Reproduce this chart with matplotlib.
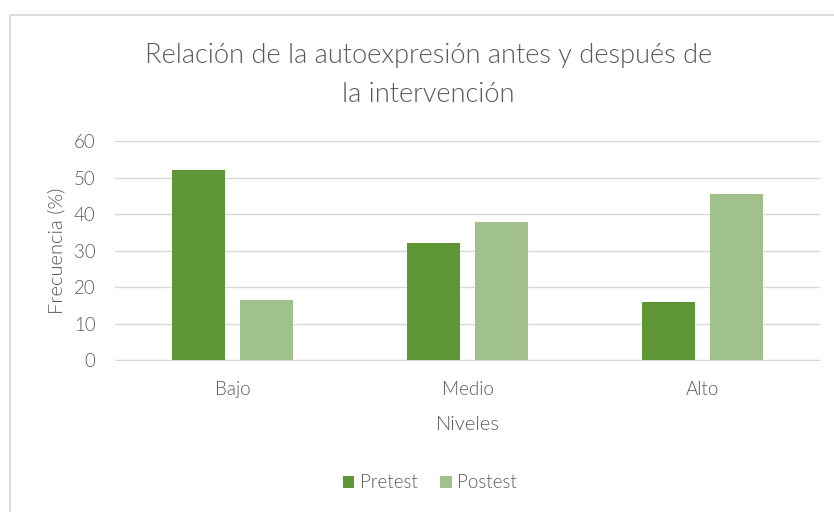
import matplotlib
matplotlib.use("Agg")
import matplotlib.pyplot as plt
from matplotlib.patches import Rectangle, Patch
import numpy as np

categories = ["Bajo", "Medio", "Alto"]
pretest = [52.2, 32.0, 15.9]
postest = [16.4, 37.8, 45.5]
series_names = ["Pretest", "Postest"]
yticks = [0, 10, 20, 30, 40, 50, 60]
title = "Relación de la autoexpresión antes y después de\nla intervención"
xlabel = "Niveles"
ylabel = "Frecuencia (%)"

c_pre = "#5E9636"
c_post = "#A0C28A"
txt = "#595959"
grid = "#D9D9D9"

plt.rcParams['font.family'] = ['Lato', 'DejaVu Sans']
plt.rcParams['font.weight'] = 300

W, H = 834, 512
fig = plt.figure(figsize=(W/100, H/100), dpi=100)
fig.patch.set_facecolor("white")

# chart border (left/top visible)
fig.add_artist(Rectangle((10/W, -0.1), 1.2, (H-15)/H + 0.1, transform=fig.transFigure,
                         fill=False, edgecolor="#D9D9D9", linewidth=1.2))

ax = fig.add_axes([115/W, (H-360)/H, (820-115)/W, (360-141.3)/H])
x = np.arange(len(categories))
bw = 0.225
off = 0.143
ax.bar(x - off, pretest, bw, color=c_pre, label=series_names[0], zorder=3)
ax.bar(x + off, postest, bw, color=c_post, label=series_names[1], zorder=3)
ax.set_xlim(-0.5, len(categories) - 0.5)
ax.set_ylim(0, 60)
ax.set_yticks(yticks)
ax.set_xticks(x)
ax.set_xticklabels(categories)
ax.yaxis.grid(True, color=grid, linewidth=1, zorder=0)
for s in ["top", "right", "left"]:
    ax.spines[s].set_visible(False)
ax.spines["bottom"].set_color(grid)
ax.tick_params(axis="both", length=0, labelsize=13.5, colors=txt)
ax.tick_params(axis="y", pad=14)
ax.tick_params(axis="x", pad=15)
ax.set_xlabel(xlabel, fontsize=14.5, color=txt, labelpad=13, fontweight=300)
ax.set_ylabel(ylabel, fontsize=14.5, color=txt, labelpad=6, fontweight=300)

fig.text(0.514, (H-75)/H, title, ha="center", va="center", fontsize=19.6,
         color=txt, linespacing=1.65, fontweight=300)

handles = [Patch(facecolor=c_pre), Patch(facecolor=c_post)]
fig.legend(handles, series_names, loc="center", bbox_to_anchor=(430/W, (H-483)/H),
           ncol=2, frameon=False, fontsize=13.5, labelcolor=txt,
           handlelength=0.6, handleheight=0.6, handletextpad=0.3, columnspacing=1.2)

fig.savefig("out.png", dpi=100, facecolor="white")
